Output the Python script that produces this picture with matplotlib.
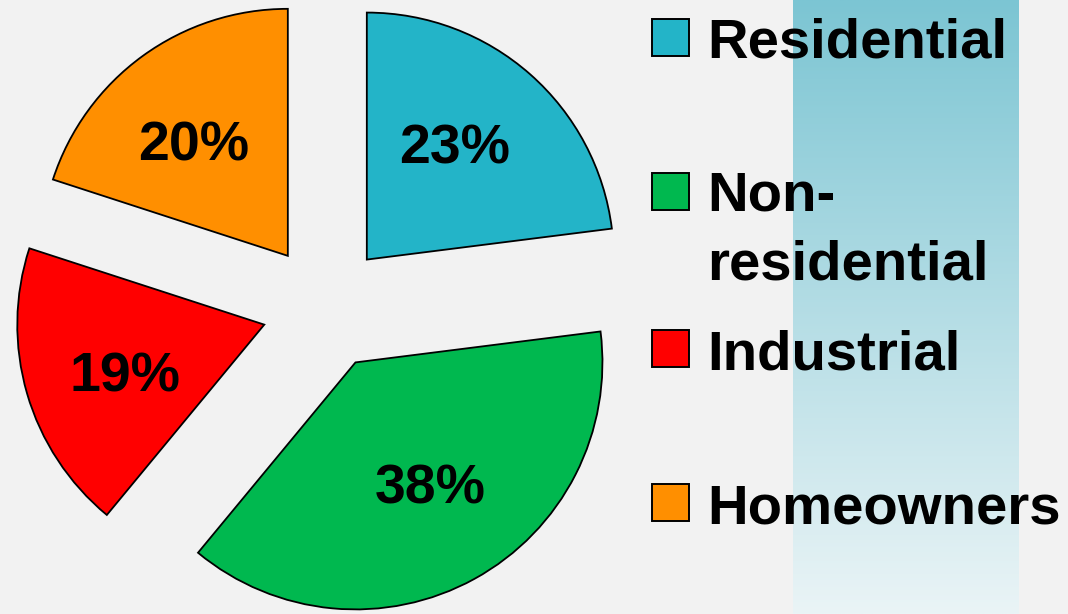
import numpy as np
import matplotlib
matplotlib.use('Agg')
import matplotlib.pyplot as plt
from matplotlib.patches import Rectangle
from matplotlib.colors import LinearSegmentedColormap

categories = ['Residential', 'Non-\nresidential', 'Industrial', 'Homeowners']
shares = [23, 38, 19, 20]
colors = ['#23b4c8', '#00b84f', '#ff0000', '#ff8f00']

plt.rcParams['font.family'] = ['Liberation Sans', 'DejaVu Sans']

W, H = 1068, 614
R = 247
fig = plt.figure(figsize=(W / 100, H / 100), dpi=100, facecolor='#f2f2f2')

# gradient band behind the legend
band = fig.add_axes([793 / W, 0, 226 / W, 1])
cmap = LinearSegmentedColormap.from_list('band', ['#eaf4f6', '#7cc5d3'])
band.imshow(np.linspace(0, 1, 256).reshape(-1, 1), aspect='auto', cmap=cmap,
            origin='lower', extent=[0, 1, 0, 1])
band.set_axis_off()

# pie, drawn in pixel units (explode is in data units here)
ax = fig.add_axes([0, 0, 1, 1])
ax.patch.set_alpha(0)
wedges, _, autotexts = ax.pie(
    shares, colors=colors, startangle=90, counterclock=False,
    center=(325, H - 307), radius=R, explode=[0.256 * R] * len(shares),
    autopct='%d%%', pctdistance=0.59,
    wedgeprops=dict(edgecolor='black', linewidth=1.3),
    textprops=dict(fontsize=40, fontweight='bold', color='black'))

# labels sit a few degrees anticlockwise of the wedge bisector
rot = np.deg2rad(3.2)
for w, t in zip(wedges, autotexts):
    cx, cy = w.center
    x, y = t.get_position()
    dx, dy = x - cx, y - cy
    t.set_position((cx + dx * np.cos(rot) - dy * np.sin(rot) - 2,
                    cy + dx * np.sin(rot) + dy * np.cos(rot) - 4))

ax.set_xlim(0, W)
ax.set_ylim(0, H)
ax.set_aspect('equal')
ax.set_axis_off()

# legend
box_y = [19, 173, 330, 484]
for lab, col, y in zip(categories, colors, box_y):
    fig.patches.append(Rectangle((652 / W, 1 - (y + 37) / H), 37 / W, 37 / H,
                                 transform=fig.transFigure, facecolor=col,
                                 edgecolor='black', linewidth=1.4))
    nl = lab.count('\n')
    fig.text(707 / W, 1 - (y + 39 + 67 * nl) / H, lab, fontsize=40.5,
             fontweight='bold', va='baseline', ha='left', linespacing=1.42)

fig.savefig('out.png', dpi=100, facecolor=fig.get_facecolor())
